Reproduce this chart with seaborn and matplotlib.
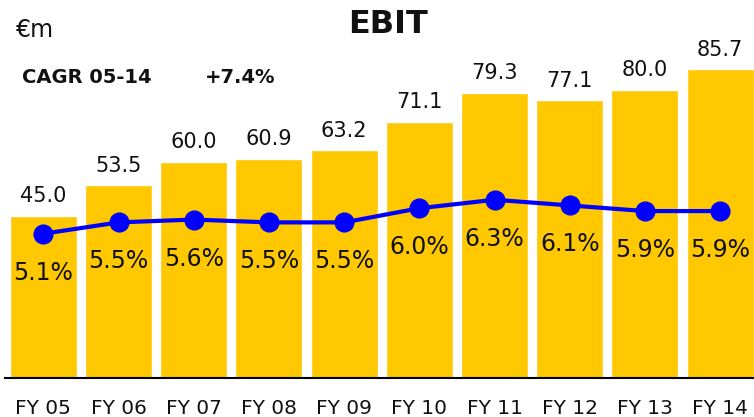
import matplotlib
matplotlib.use("Agg")
import matplotlib.pyplot as plt
import seaborn as sns
import numpy as np

# Data
years = ["FY 05", "FY 06", "FY 07", "FY 08", "FY 09", "FY 10", "FY 11", "FY 12", "FY 13", "FY 14"]
ebit = [45.0, 53.5, 60.0, 60.9, 63.2, 71.1, 79.3, 77.1, 80.0, 85.7]
margin = [5.1, 5.5, 5.6, 5.5, 5.5, 6.0, 6.3, 6.1, 5.9, 5.9]

sns.set_style("white")
plt.rcParams['font.family'] = ['DejaVu Sans']

fig = plt.figure(figsize=(7.54, 4.17), dpi=100)
ax = fig.add_axes([0.0066, 0.0935, 0.9934, 0.9065])

sns.barplot(x=years, y=ebit, color="#FFC800", saturation=1, width=0.89, ax=ax)
ax.bar_label(ax.containers[0], fmt="%.1f", padding=7, fontsize=15, color="#111111")
ax.set_xlim(-0.51, 9.45)
ax.set_ylim(0, 105)
ax.set_yticks([])
ax.tick_params(axis="x", length=0, labelsize=14.5, pad=15, colors="#111111")
for s in ["top", "right", "left"]:
    ax.spines[s].set_visible(False)
ax.spines["bottom"].set_color("black")
ax.spines["bottom"].set_linewidth(1.5)

# margin line on a second scale
ax2 = ax.twinx()
xs = np.arange(len(years))
ax2.plot(xs, margin, color="#0000FF", lw=3, marker="o", markersize=13.5)
for x, m in zip(xs, margin):
    ax2.text(x, m - 1.38, f"{m:.1f}%", ha="center", va="center", fontsize=17,
             color="#111111")
ax2.set_ylim(0, 13.36)
ax2.set_yticks([])
for s in ax2.spines.values():
    s.set_visible(False)

fig.text(0.021, 0.928, "€m", fontsize=17, ha="left", va="center", color="#111111")
fig.text(0.514, 0.942, "EBIT", fontsize=23, fontweight="bold", ha="center", va="center", color="#111111")
fig.text(0.029, 0.815, "CAGR 05-14", fontsize=14, fontweight="bold", ha="left", va="center", color="#111111")
fig.text(0.272, 0.815, "+7.4%", fontsize=14, fontweight="bold", ha="left", va="center", color="#111111")

fig.savefig("out.png", dpi=100)
